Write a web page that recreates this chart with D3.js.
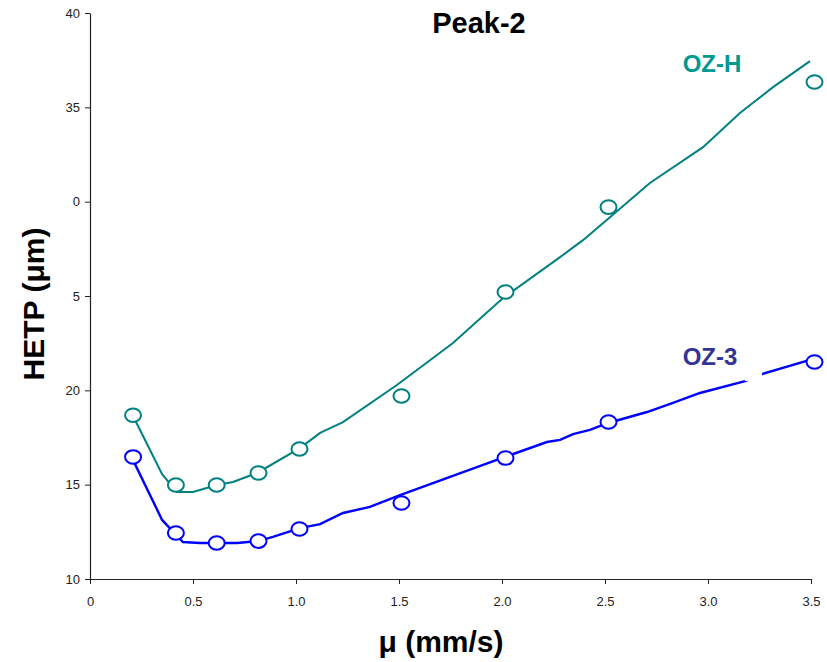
<!DOCTYPE html>
<html>
<head>
<meta charset="utf-8">
<script src="https://cdn.jsdelivr.net/npm/d3@7"></script>
<style>
  html, body { margin: 0; padding: 0; background: #fff; }
  svg { display: block; font-family: "Liberation Sans", Arial, sans-serif; }
</style>
</head>
<body>
<svg id="chart" width="827" height="662"></svg>
<script>
// Measured HETP for Peak-2 on two columns
const velocity = [0.209, 0.417, 0.615, 0.818, 1.017, 1.512, 2.017, 2.517, 3.517];
const hetpOZH = [18.68, 14.98, 14.98, 15.62, 16.89, 19.70, 25.21, 29.71, 36.34];
const hetpOZ3 = [16.47, 12.44, 11.91, 12.01, 12.65, 14.03, 16.41, 18.32, 21.50];

// Fitted curves
const fitOZH = [
  [0.209, 18.64], [0.350, 15.56], [0.422, 14.61], [0.500, 14.61], [0.617, 14.98],
  [0.694, 15.14], [0.811, 15.62], [1.019, 16.94], [1.117, 17.74], [1.228, 18.32],
  [1.490, 20.28], [1.762, 22.51], [2.005, 24.89], [2.282, 27.06], [2.393, 27.96],
  [2.524, 29.18], [2.718, 30.99], [2.976, 32.89], [3.155, 34.70], [3.316, 36.07],
  [3.495, 37.45]
];
const fitOZ3 = [
  [0.209, 16.30], [0.350, 13.13], [0.451, 11.96], [0.534, 11.91], [0.714, 11.91],
  [0.816, 12.01], [0.888, 12.23], [1.019, 12.70], [1.117, 12.91], [1.228, 13.50],
  [1.359, 13.82], [1.505, 14.45], [1.748, 15.41], [2.015, 16.47], [2.218, 17.26],
  [2.282, 17.37], [2.345, 17.68], [2.427, 17.90], [2.515, 18.27], [2.704, 18.85],
  [2.830, 19.33], [2.961, 19.86], [3.180, 20.49], [3.262, 20.86], [3.495, 21.61]
];

const xTicks = [0, 0.5, 1.0, 1.5, 2.0, 2.5, 3.0, 3.5];
const xTickLabels = ["0", "0.5", "1.0", "1.5", "2.0", "2.5", "3.0", "3.5"];
const yTicks = [10, 15, 20, 25, 30, 35, 40];
const yTickLabels = ["10", "15", "20", "5", "0", "35", "40"];

const colOZH = "#008080", colOZ3 = "#0000ff";
const labelOZH = "#009990", labelOZ3 = "#333399";

const svg = d3.select("#chart");
const x = d3.scaleLinear().domain([0, 3.5]).range([90, 811]);
const y = d3.scaleLinear().domain([10, 40]).range([579, 13]);

// Axes
const xAxis = d3.axisBottom(x).tickValues(xTicks)
  .tickFormat((d, i) => xTickLabels[i]).tickSize(5).tickSizeOuter(0);
const yAxis = d3.axisLeft(y).tickValues(yTicks)
  .tickFormat((d, i) => yTickLabels[i]).tickSize(5).tickSizeOuter(0);

const gx = svg.append("g").attr("transform", "translate(0,579)").call(xAxis);
const gy = svg.append("g").attr("transform", "translate(90,0)").call(yAxis);
[gx, gy].forEach(g => {
  g.select(".domain").attr("stroke", "#222").attr("stroke-width", 1.2);
  g.selectAll(".tick line").attr("stroke", "#222");
  g.selectAll(".tick text").attr("fill", "#222")
    .style("font-family", '"Liberation Sans", Arial, sans-serif')
    .style("font-size", "13px");
});
gx.selectAll(".tick text").attr("dy", "1.45em");
gy.selectAll(".tick text").attr("x", -10);

// Fitted lines
const line = d3.line().x(d => x(d[0])).y(d => y(d[1]));
svg.append("path").datum(fitOZH).attr("d", line)
  .attr("fill", "none").attr("stroke", colOZH).attr("stroke-width", 2);
svg.append("path").datum(fitOZ3).attr("d", line)
  .attr("fill", "none").attr("stroke", colOZ3).attr("stroke-width", 2.4);

// Label backing for OZ-3
svg.append("rect").attr("x", 745).attr("y", 362).attr("width", 17).attr("height", 19)
  .attr("fill", "#fff");

// Markers
function markers(vals, col) {
  svg.append("g").selectAll("ellipse").data(velocity.map((v, i) => [v, vals[i]]))
    .join("ellipse")
    .attr("cx", d => x(d[0])).attr("cy", d => y(d[1]))
    .attr("rx", 8).attr("ry", 6.8)
    .attr("fill", "#fff").attr("stroke", col).attr("stroke-width", 2);
}
markers(hetpOZH, colOZH);
markers(hetpOZ3, colOZ3);

// Text
svg.append("text").attr("x", 479).attr("y", 33).attr("text-anchor", "middle")
  .style("font-size", "29px").style("font-weight", "bold").text("Peak-2");
svg.append("text").attr("x", 712).attr("y", 72).attr("text-anchor", "middle")
  .attr("fill", labelOZH).style("font-size", "24px").style("font-weight", "bold").text("OZ-H");
svg.append("text").attr("x", 710).attr("y", 365).attr("text-anchor", "middle")
  .attr("fill", labelOZ3).style("font-size", "24px").style("font-weight", "bold").text("OZ-3");
svg.append("text").attr("x", 441).attr("y", 652).attr("text-anchor", "middle")
  .style("font-size", "30px").style("font-weight", "bold").text("μ (mm/s)");
svg.append("text").attr("transform", "translate(44,304) rotate(-90)")
  .attr("text-anchor", "middle")
  .style("font-size", "30px").style("font-weight", "bold").text("HETP (μm)");
</script>
</body>
</html>
